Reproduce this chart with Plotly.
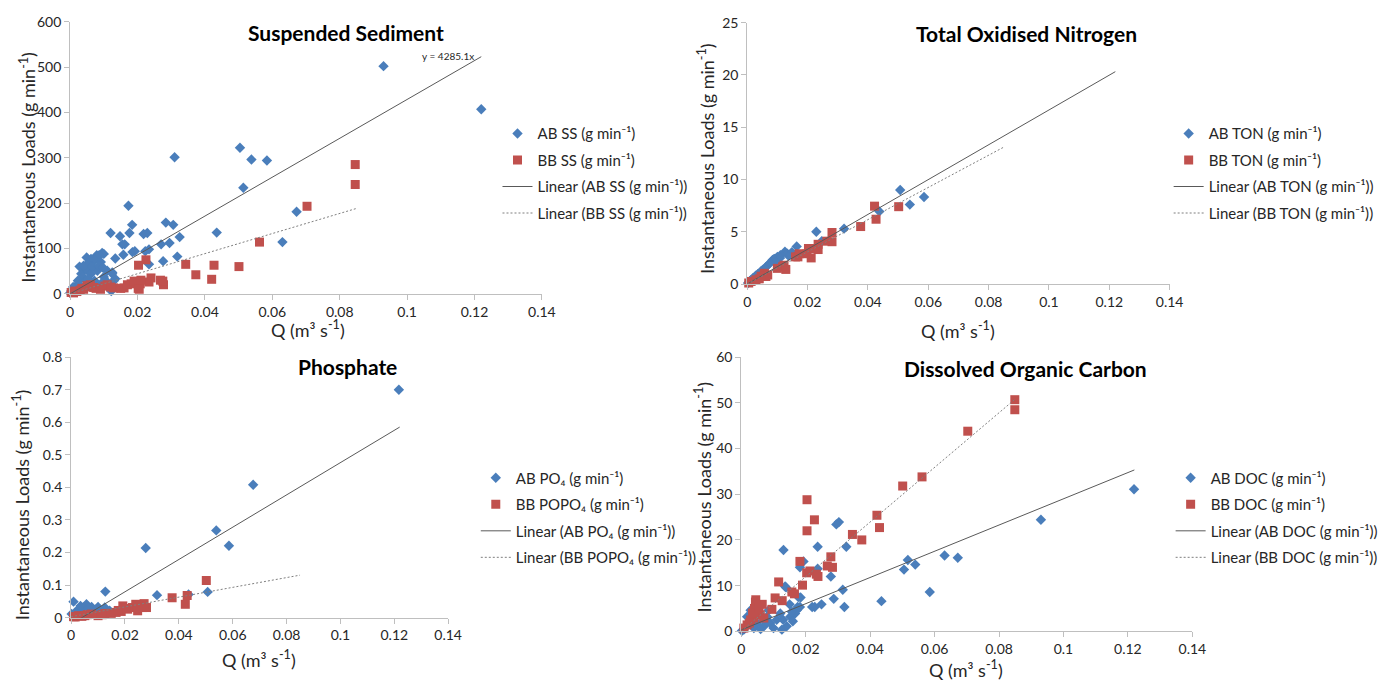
import plotly.graph_objects as go

# ---------------- data: discharge Q (m3 s-1) and instantaneous loads (g min-1) ----------------
# Suspended sediment
ss_ab_q = [0.093, 0.122, 0.031, 0.0504, 0.0538, 0.0584, 0.0514, 0.0672, 0.063, 0.0435,
           0.0173, 0.0184, 0.0176, 0.012, 0.0148, 0.0218, 0.0229, 0.0284, 0.0306, 0.0325,
           0.0295, 0.027, 0.0234, 0.0223, 0.0185, 0.0192, 0.0155, 0.0162, 0.0134, 0.0158,
           0.0318, 0.0276, 0.0234, 0.0095, 0.0079, 0.0049, 0.0068, 0.0125, 0.0134, 0.0122,
           0.010, 0.0086, 0.0062, 0.0057, 0.0072, 0.0091, 0.0043, 0.0052, 0.0033, 0.0038,
           0.0081, 0.011, 0.0125, 0.0023, 0.0018, 0.0062, 0.010, 0.013, 0.0072, 0.0047,
           0.0009, 0.0004, 0.0091, 0.012, 0.0, 0.0028, 0.004, 0.0053, 0.0066, 0.0085,
           0.0097, 0.0105, 0.0028]
ss_ab_load = [502, 407, 301, 322, 296, 294, 234, 181, 114, 135,
              194, 152, 134, 134, 127, 132, 134, 157, 152, 125,
              112, 109, 98, 94, 92, 94, 109, 109, 78, 86,
              82, 72, 65, 90, 85, 80, 74, 47, 33, 6,
              88, 85, 77, 70, 74, 70, 55, 51, 44, 37,
              51, 51, 44, 29, 18, 44, 37, 29, 29, 29,
              15, 7, 22, 18, 2, 60, 62, 33, 60, 62,
              58, 30, 20]
ss_bb_q = [0.0846, 0.0846, 0.0703, 0.0562, 0.0501, 0.0427, 0.042, 0.0373, 0.0343, 0.0225,
           0.0203, 0.024, 0.0268, 0.0277, 0.0234, 0.0208, 0.0202, 0.0181, 0.016, 0.0129,
           0.0103, 0.0077, 0.0056, 0.0035, 0.0014, 0.0003, 0.002, 0.003, 0.004, 0.005,
           0.006, 0.007, 0.009, 0.011, 0.012, 0.015, 0.017, 0.019, 0.021, 0.0275,
           0.0205, 0.001]
ss_bb_load = [285, 241, 193, 114, 60, 63, 32, 42, 65, 75,
              63, 35, 30, 20, 26, 22, 12, 22, 13, 13,
              17, 12, 15, 12, 6, 3, 5, 8, 10, 18,
              20, 14, 10, 20, 15, 12, 20, 28, 30, 28,
              10, 2]

# Total oxidised nitrogen
ton_ab_q = [0.0507, 0.0586, 0.0539, 0.0438, 0.0321, 0.0229, 0.0247, 0.0164, 0.0125, 0.0100,
            0.0084, 0.0068, 0.0051, 0.0035, 0.0019, 0.0008, 0.0133, 0.0149, 0.009, 0.011,
            0.0148, 0.0109, 0.0137, 0.0061, 0.0045, 0.0088, 0.0093, 0.0075, 0.0028, 0.0013,
            0.0003]
ton_ab_load = [9.0, 8.32, 7.6, 6.95, 5.3, 5.0, 4.1, 3.6, 3.1, 2.6,
               2.3, 1.8, 1.35, 0.95, 0.55, 0.25, 2.9, 2.75, 2.4, 2.75,
               3.05, 2.5, 2.7, 1.6, 1.2, 2.35, 2.1, 2.0, 0.8, 0.4,
               0.1]
ton_bb_q = [0.0281, 0.0281, 0.0376, 0.0422, 0.0427, 0.0502, 0.0235, 0.0235, 0.0212, 0.0203,
            0.0168, 0.016, 0.0117, 0.010, 0.0122, 0.0062, 0.0057, 0.004, 0.0029, 0.0013,
            0.0005, 0.0068, 0.0046, 0.022, 0.0198, 0.0264, 0.0128, 0.0172]
ton_bb_load = [4.93, 4.05, 5.5, 7.45, 6.2, 7.4, 3.3, 3.8, 2.5, 3.4,
               2.6, 2.6, 1.65, 1.5, 1.8, 0.72, 1.03, 0.5, 0.4, 0.25,
               0.1, 0.87, 0.75, 3.4, 2.9, 4.1, 1.4, 2.9]

# Phosphate
po4_ab_q = [0.1217, 0.0676, 0.0539, 0.0586, 0.0277, 0.0507, 0.0319, 0.0127, 0.0436, 0.0009,
            0.0057, 0.0076, 0.010, 0.0125, 0.0027, 0.0045, 0.0094, 0.011, 0.0143, 0.0002,
            0.0015, 0.0035, 0.0065, 0.0085, 0.0115, 0.0135]
po4_ab_load = [0.70, 0.408, 0.268, 0.221, 0.214, 0.079, 0.069, 0.08, 0.071, 0.049,
               0.041, 0.033, 0.033, 0.031, 0.026, 0.031, 0.026, 0.021, 0.021, 0.011,
               0.016, 0.036, 0.028, 0.02, 0.015, 0.012]
po4_bb_q = [0.0502, 0.0375, 0.0431, 0.0424, 0.028, 0.0271, 0.0247, 0.024, 0.0228, 0.021,
            0.0192, 0.0204, 0.0186, 0.0167, 0.0149, 0.0125, 0.010, 0.0076, 0.0051, 0.0027,
            0.0009, 0.0247, 0.0265, 0.006, 0.004, 0.0015, 0.0115, 0.0175]
po4_bb_load = [0.114, 0.061, 0.068, 0.041, 0.031, 0.043, 0.039, 0.041, 0.031, 0.026,
               0.036, 0.028, 0.019, 0.016, 0.013, 0.013, 0.006, 0.011, 0.006, 0.006,
               0.003, 0.021, 0.031, 0.009, 0.004, 0.002, 0.009, 0.022]

# Dissolved organic carbon
doc_ab_q = [0.1219, 0.093, 0.0631, 0.0672, 0.0517, 0.054, 0.0505, 0.0585, 0.0435, 0.0303,
            0.0295, 0.0326, 0.0237, 0.0131, 0.0193, 0.0182, 0.0237, 0.0278, 0.0315, 0.0287,
            0.032, 0.0249, 0.022, 0.0228, 0.0139, 0.0184, 0.0175, 0.015, 0.0126, 0.0018,
            0.0029, 0.0049, 0.007, 0.009, 0.011, 0.013, 0.0152, 0.0167, 0.0172, 0.0141,
            0.0182, 0.010, 0.0039, 0.0008, 0.008, 0.0121, 0.0157, 0.0085, 0.007, 0.0136,
            0.0177, 0.0002, 0.006, 0.016]
doc_ab_load = [31.1, 24.4, 16.6, 16.1, 15.6, 14.6, 13.5, 8.6, 6.6, 23.9,
               23.4, 18.5, 18.5, 17.8, 15.3, 14.0, 13.7, 12.0, 9.1, 7.1,
               5.3, 5.9, 5.3, 5.3, 9.6, 7.4, 5.3, 5.9, 0.36, 3.2,
               4.6, 1.8, 1.1, 1.8, 2.5, 2.5, 3.2, 3.9, 4.6, 1.1,
               5.3, 0.7, 0.7, 0.36, 3.2, 3.9, 4.3, 4.6, 2.5, 9.8,
               7.5, 0.1, 0.5, 2.2]
doc_bb_q = [0.0849, 0.0849, 0.0703, 0.0561, 0.0501, 0.0421, 0.0429, 0.0345, 0.0374, 0.0204,
            0.0227, 0.0204, 0.0278, 0.0267, 0.0283, 0.0182, 0.0203, 0.0213, 0.0233, 0.0238,
            0.019, 0.0157, 0.0165, 0.0116, 0.0105, 0.0127, 0.0095, 0.0044, 0.0041, 0.0065,
            0.0059, 0.0029, 0.0018, 0.0008, 0.0049, 0.0039, 0.007, 0.0045, 0.0035, 0.0025,
            0.0055]
doc_bb_load = [50.7, 48.5, 43.8, 33.8, 31.8, 25.4, 22.7, 21.2, 20.0, 28.8,
               24.4, 22.0, 16.3, 14.3, 14.0, 15.3, 12.8, 13.2, 12.5, 12.0,
               10.1, 8.6, 8.2, 10.8, 7.3, 6.7, 4.8, 6.4, 5.0, 5.9,
               3.6, 2.5, 1.4, 0.7, 4.6, 2.9, 2.9, 6.9, 4.0, 1.8,
               5.2]

# Linear trendlines (slope, intercept) fitted per site, drawn over each site's Q span
trend_q_span_ab = [0.0, 0.122]
trend_q_span_bb = [0.0, 0.085]
trend_ab_slope = [4285.1, 166.5, 4.96, 287.0]
trend_ab_icpt = [0.0, 0.0, -0.0198, 0.3]
trend_bb_slope = [2215.0, 154.0, 1.5, 598.0]
trend_bb_icpt = [0.0, 0.0, 0.003, 0.0]

panel_titles = ["Suspended Sediment", "Total Oxidised Nitrogen", "Phosphate",
                "Dissolved Organic Carbon"]
ab_names = ["AB SS (g min⁻¹)", "AB TON (g min⁻¹)", "AB PO₄ (g min⁻¹)", "AB DOC (g min⁻¹)"]
bb_names = ["BB SS (g min⁻¹)", "BB TON (g min⁻¹)", "BB POPO₄ (g min⁻¹)", "BB DOC (g min⁻¹)"]
y_max = [600, 25, 0.8, 60]
y_step = [100, 5, 0.1, 10]
x_ticks = [0, 0.02, 0.04, 0.06, 0.08, 0.1, 0.12, 0.14]

ab_series = [(ss_ab_q, ss_ab_load), (ton_ab_q, ton_ab_load), (po4_ab_q, po4_ab_load), (doc_ab_q, doc_ab_load)]
bb_series = [(ss_bb_q, ss_bb_load), (ton_bb_q, ton_bb_load), (po4_bb_q, po4_bb_load), (doc_bb_q, doc_bb_load)]

# ---------------- layout geometry (pixels on a 1384 x 690 page) ----------------
W, H = 1384, 690
# plot boxes: (left, right, top, bottom) in px
boxes = [(67, 545, 13, 292), (753, 1181, 14, 282), (68, 450, 357, 624), (747, 1204, 357, 638)]
# legend top-left corner in px
legend_pos = [(500, 111), (1180, 111), (478, 464), (1182, 464)]
# panel title centres in px
title_pos = [(346, 24), (1036, 25), (348, 367), (1035, 369)]
ytitle_pos = [(24, 162), (712, 153), (18, 508), (708, 500)]
xtitle_pos = [(308, 328), (967, 329), (258, 666), (975, 677)]

FONT = "Lato, 'Open Sans', sans-serif"
BLUE = "#4a7ebb"
RED = "#c0504d"
AXIS = "#bfbfbf"
TEXT = "#262626"


def px_x(v):
    return v / W


def px_y(v):
    return 1 - v / H


fig = go.Figure()
annotations = []

for i in range(4):
    n = "" if i == 0 else str(i + 1)
    xa, ya = "x" + n, "y" + n
    leg = "legend" + n
    ab_q, ab_l = ab_series[i]
    bb_q, bb_l = bb_series[i]

    fig.add_trace(go.Scatter(
        x=ab_q, y=ab_l, mode="markers", name=ab_names[i], xaxis=xa, yaxis=ya,
        legend=leg, legendgroup=f"ab{i}", cliponaxis=False,
        marker=dict(symbol="diamond", size=8, color=BLUE, line=dict(width=0))))
    fig.add_trace(go.Scatter(
        x=bb_q, y=bb_l, mode="markers", name=bb_names[i], xaxis=xa, yaxis=ya,
        legend=leg, legendgroup=f"bb{i}", cliponaxis=False,
        marker=dict(symbol="square", size=9, color=RED, line=dict(width=0))))

    ab_fit = [trend_ab_slope[i] * q + trend_ab_icpt[i] for q in trend_q_span_ab]
    bb_fit = [trend_bb_slope[i] * q + trend_bb_icpt[i] for q in trend_q_span_bb]
    fig.add_trace(go.Scatter(
        x=trend_q_span_ab, y=ab_fit, mode="lines", name=f"Linear ({ab_names[i]})",
        xaxis=xa, yaxis=ya, legend=leg, legendgroup=f"abl{i}",
        line=dict(color="#595959", width=1)))
    fig.add_trace(go.Scatter(
        x=trend_q_span_bb, y=bb_fit, mode="lines", name=f"Linear ({bb_names[i]})",
        xaxis=xa, yaxis=ya, legend=leg, legendgroup=f"bbl{i}",
        line=dict(color="#7f7f7f", width=1, dash="2px,2px")))

    l, r, t, b = boxes[i]
    axis_common = dict(showgrid=False, zeroline=False, showline=True, linecolor=AXIS,
                       linewidth=1, ticks="outside", ticklen=5, tickcolor=AXIS,
                       tickfont=dict(family=FONT, size=14, color=TEXT))
    fig.update_layout({
        "xaxis" + n: dict(domain=[px_x(l), px_x(r)], range=[0, 0.14], tickvals=x_ticks,
                          ticktext=[f"{v:g}" for v in x_ticks], anchor=ya, **axis_common),
        "yaxis" + n: dict(domain=[px_y(b), px_y(t)], range=[0, y_max[i]], dtick=y_step[i],
                          tick0=0, anchor=xa, **axis_common),
        leg: dict(x=px_x(legend_pos[i][0]), y=px_y(legend_pos[i][1]), xanchor="left",
                  yanchor="top", bgcolor="rgba(0,0,0,0)", tracegroupgap=4,
                  traceorder="grouped", font=dict(family=FONT, size=15, color=TEXT)),
    })

    annotations.append(dict(text=f"<b>{panel_titles[i]}</b>", xref="paper", yref="paper",
                            x=px_x(title_pos[i][0]), y=px_y(title_pos[i][1]),
                            showarrow=False, xanchor="center", yanchor="middle",
                            font=dict(family=FONT, size=21, color="#000000")))
    annotations.append(dict(text="Instantaneous Loads (g min<sup>-1</sup>)", xref="paper",
                            yref="paper", x=px_x(ytitle_pos[i][0]), y=px_y(ytitle_pos[i][1]),
                            textangle=-90, showarrow=False, xanchor="center", yanchor="middle",
                            font=dict(family=FONT, size=18, color=TEXT)))
    annotations.append(dict(text="Q (m³ s<sup>-1</sup>)", xref="paper", yref="paper",
                            x=px_x(xtitle_pos[i][0]), y=px_y(xtitle_pos[i][1]),
                            showarrow=False, xanchor="center", yanchor="middle",
                            font=dict(family=FONT, size=18, color=TEXT)))

# trendline equation label for AB suspended sediment
annotations.append(dict(text=f"y = {trend_ab_slope[0]}x", xref="x", yref="y",
                        x=0.112, y=525, showarrow=False, xanchor="center", yanchor="middle",
                        font=dict(family=FONT, size=10, color=TEXT)))

fig.update_layout(width=W, height=H, margin=dict(l=0, r=0, t=0, b=0),
                  paper_bgcolor="white", plot_bgcolor="white",
                  annotations=annotations, showlegend=True)

fig.write_html("out.html")
